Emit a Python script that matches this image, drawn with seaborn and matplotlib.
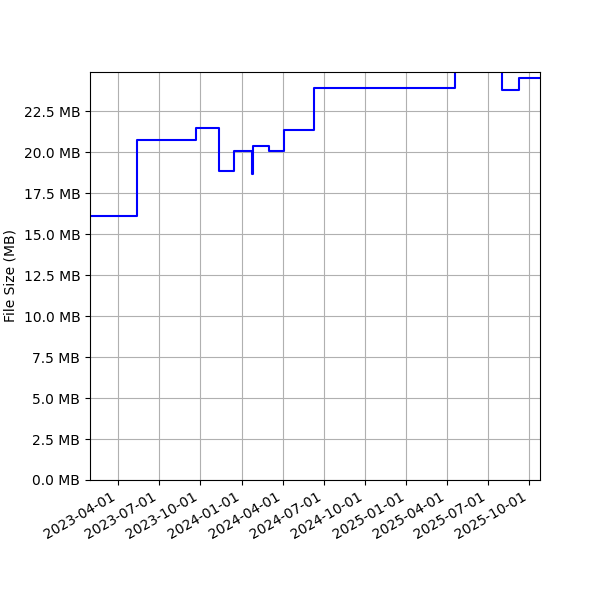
import numpy as np
import pandas as pd
import matplotlib
matplotlib.use("Agg")
import matplotlib.pyplot as plt
import matplotlib.dates as mdates
from matplotlib.ticker import FuncFormatter, MultipleLocator
import seaborn as sns

# file size history (step changes)
dates = ["2023-01-29", "2023-05-13", "2023-09-21", "2023-11-12", "2023-12-16",
         "2024-01-25", "2024-01-27", "2024-03-01", "2024-04-03", "2024-05-01",
         "2024-06-09", "2024-10-01", "2025-04-19", "2025-08-01", "2025-09-08",
         "2025-10-25"]
sizes_mb = [16.1, 20.73, 21.46, 18.84, 20.06,
            18.66, 20.37, 20.10, 21.36, 21.34,
            23.92, 23.94, 26.0, 23.78, 24.55,
            24.55]

df = pd.DataFrame({"date": pd.to_datetime(dates), "size": sizes_mb})

fig, ax = plt.subplots(figsize=(6, 6), dpi=100)
sns.lineplot(data=df, x="date", y="size", drawstyle="steps-post",
             color="blue", lw=1.5, ax=ax)

ax.set_xlim(df.date.iloc[0], df.date.iloc[-1])
ax.set_ylim(0, 24.9)
ax.yaxis.set_major_locator(MultipleLocator(2.5))
ax.yaxis.set_major_formatter(FuncFormatter(lambda v, p: f"{v:.1f} MB"))
ax.xaxis.set_major_locator(mdates.MonthLocator(bymonth=[1, 4, 7, 10]))
ax.xaxis.set_major_formatter(mdates.DateFormatter("%Y-%m-%d"))
ax.grid(True, color="#b0b0b0", lw=0.8)
ax.set_xlabel("")
ax.set_ylabel("File Size (MB)")
fig.autofmt_xdate()
fig.subplots_adjust(left=0.15, right=0.9, top=0.88, bottom=0.2)
fig.savefig("out.png", dpi=100)
